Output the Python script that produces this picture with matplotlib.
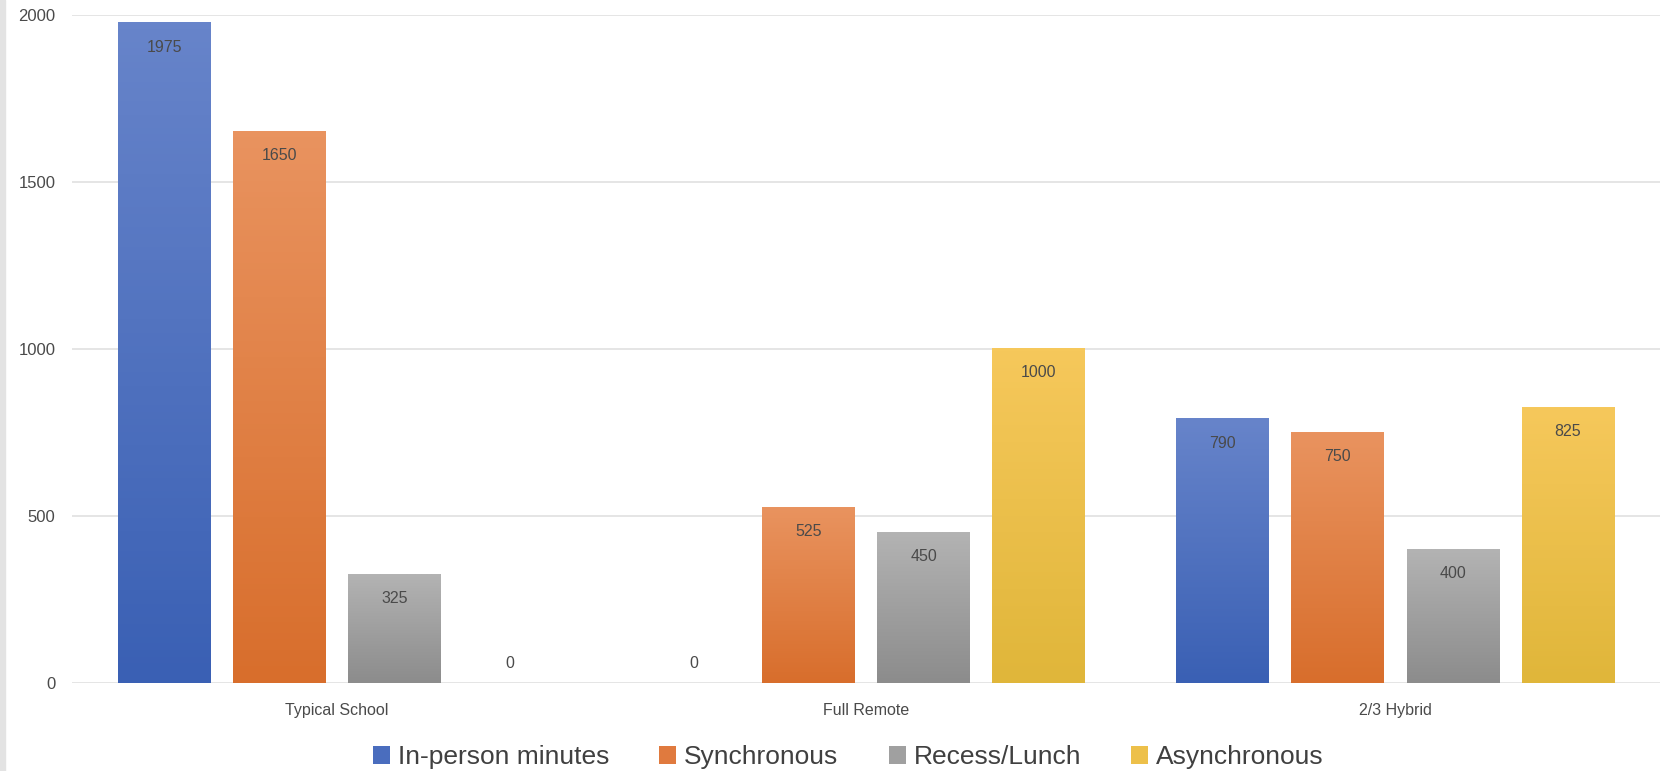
import matplotlib.pyplot as plt
import numpy as np
from matplotlib.colors import LinearSegmentedColormap
from matplotlib.patches import Rectangle

plt.rcParams['font.family'] = ['Liberation Sans Narrow', 'Liberation Sans', 'DejaVu Sans']

categories = ["Typical School", "Full Remote", "2/3 Hybrid"]
series = ["In-person minutes", "Synchronous", "Recess/Lunch", "Asynchronous"]
in_person = [1975, 0, 790]
synchronous = [1650, 525, 750]
recess = [325, 450, 400]
asynchronous = [0, 1000, 825]
values = [in_person, synchronous, recess, asynchronous]

# top colour, bottom colour of each gradient
tops = ["#6784CA", "#E9935F", "#B3B3B3", "#F6C85B"]
bottoms = ["#3A60B4", "#D86E2C", "#8C8C8C", "#E0B63A"]
solid = ["#4A6DBE", "#E07A3E", "#A0A0A0", "#EDC04A"]

fig = plt.figure(figsize=(16.6, 7.71), dpi=100)
ax = fig.add_axes([0.0434, 0.114, 0.9566, 0.867])

x = np.arange(len(categories))
width = 0.175
step = 0.2175
txt_col = "#4A4A4A"

handles = []
for i, vals in enumerate(values):
    pos = x + (i - 1.5) * step
    bars = ax.bar(pos, vals, width, color=solid[i], zorder=2, label=series[i])
    handles.append(bars)
    cmap = LinearSegmentedColormap.from_list("g%d" % i, [bottoms[i], tops[i]])
    for b, v in zip(bars, vals):
        if v > 0:
            grad = np.linspace(0, 1, 100).reshape(-1, 1)
            ax.imshow(grad, extent=[b.get_x(), b.get_x() + width, 0, v],
                      origin="lower", aspect="auto", cmap=cmap, zorder=3)
            ax.text(b.get_x() + width / 2, v - 72, str(v), ha="center", va="center",
                    fontsize=11.5, color=txt_col, zorder=4)
        else:
            ax.text(b.get_x() + width / 2, 60, str(v), ha="center", va="center",
                    fontsize=11.5, color=txt_col, zorder=4)

ax.set_xlim(-0.5, 2.5)
ax.set_ylim(0, 2000)
ax.set_yticks([0, 500, 1000, 1500, 2000])
ax.set_xticks(x)
ax.set_xticklabels(categories, fontsize=11.5, color="#4A4A4A")
ax.tick_params(axis="y", labelsize=12, labelcolor="#4A4A4A", length=0, pad=12)
ax.tick_params(axis="x", length=0, pad=14)
ax.grid(axis="y", color="#E0E0E0", linewidth=1.2, zorder=0)
for s in ax.spines.values():
    s.set_visible(False)

leg = fig.legend(handles=handles, labels=series, loc="center", bbox_to_anchor=(0.511, 0.018),
                 ncol=4, frameon=False, fontsize=19, handlelength=0.65, handleheight=0.65,
                 handletextpad=0.3, columnspacing=1.9, labelcolor="#404040")

fig.patches.append(Rectangle((0, 0), 0.003, 1, transform=fig.transFigure,
                             color="#E3E3E3", zorder=0))

fig.savefig("out.png", dpi=100)
